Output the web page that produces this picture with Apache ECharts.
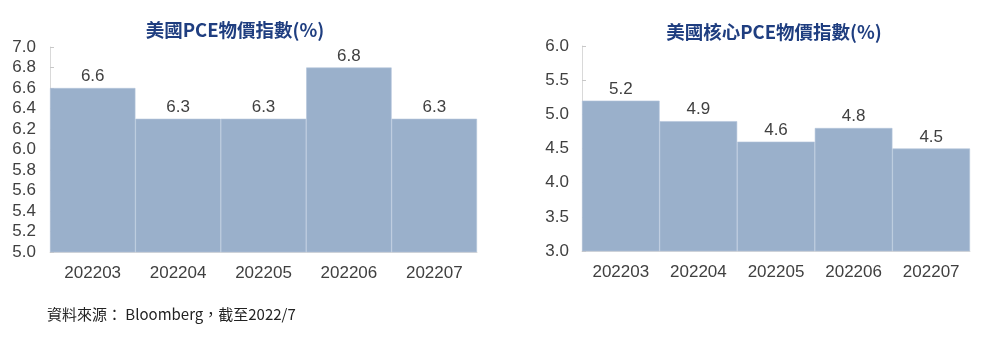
<!DOCTYPE html>
<html><head><meta charset="utf-8">
<script src="https://cdn.jsdelivr.net/npm/echarts@6/dist/echarts.min.js"></script>
<style>html,body{margin:0;padding:0;background:#fff}#c{width:992px;height:341px}</style>
</head><body><div id="c"></div>
<script>
var categories = ['202203','202204','202205','202206','202207'];
var pceValues = [6.6, 6.3, 6.3, 6.8, 6.3];
var corePceValues = [5.2, 4.9, 4.6, 4.8, 4.5];
var titleLeft = '美國PCE物價指數(%)';
var titleRight = '美國核心PCE物價指數(%)';
var sourceText = '資料來源： Bloomberg，截至2022/7';

var font = '"Liberation Sans", Arial, "Noto Sans CJK TC", sans-serif';
var textColor = '#404040';
var barColor = '#9AB0CB';

function xAxis(gi){
  return {type:'category', gridIndex:gi, data:categories,
    axisLine:{show:true, lineStyle:{color:'#d9d9d9'}}, axisTick:{show:false},
    axisLabel:{color:textColor, fontSize:17, fontFamily:font, margin:13}};
}
function yAxis(gi, min, max, interval, margin){
  return {type:'value', gridIndex:gi, min:min, max:max, interval:interval,
    axisLine:{show:true, lineStyle:{color:'#d9d9d9'}},
    axisTick:{show:true, inside:true, length:4, lineStyle:{color:'#c8c8c8'}},
    splitLine:{show:false},
    axisLabel:{color:textColor, fontSize:17, fontFamily:font, margin:margin,
      formatter:function(v){return v.toFixed(1);}}};
}
function bar(gi, data){
  return {type:'bar', xAxisIndex:gi, yAxisIndex:gi, data:data, barCategoryGap:'0%',
    itemStyle:{color:barColor, borderColor:'#b4c5da', borderWidth:0.6},
    label:{show:true, position:'top', color:textColor, fontSize:17, fontFamily:font, distance:3,
      formatter:function(p){return p.value.toFixed(1);}}};
}
var chart = echarts.init(document.getElementById('c'));
chart.setOption({
  animation:false,
  backgroundColor:'#fff',
  title:[
    {text:titleLeft, left:230, top:16, textAlign:'center',
      textStyle:{fontFamily:'"Noto Sans CJK TC", sans-serif', fontSize:18.5, fontWeight:'bold', color:'#1F3E80'}},
    {text:titleRight, left:769, top:18, textAlign:'center',
      textStyle:{fontFamily:'"Noto Sans CJK TC", sans-serif', fontSize:18.5, fontWeight:'bold', color:'#1F3E80'}},
    {text:sourceText, left:42, top:302,
      textStyle:{fontFamily:'"Noto Sans CJK TC", sans-serif', fontSize:15, fontWeight:'normal', color:'#222'}}
  ],
  grid:[
    {left:50, right:515, top:47, bottom:89},
    {left:582, right:22, top:46, bottom:90}
  ],
  xAxis:[xAxis(0), xAxis(1)],
  yAxis:[yAxis(0, 5.0, 7.0, 0.2, 14), yAxis(1, 3.0, 6.0, 0.5, 13)],
  series:[bar(0, pceValues), bar(1, corePceValues)]
});
</script></body></html>
